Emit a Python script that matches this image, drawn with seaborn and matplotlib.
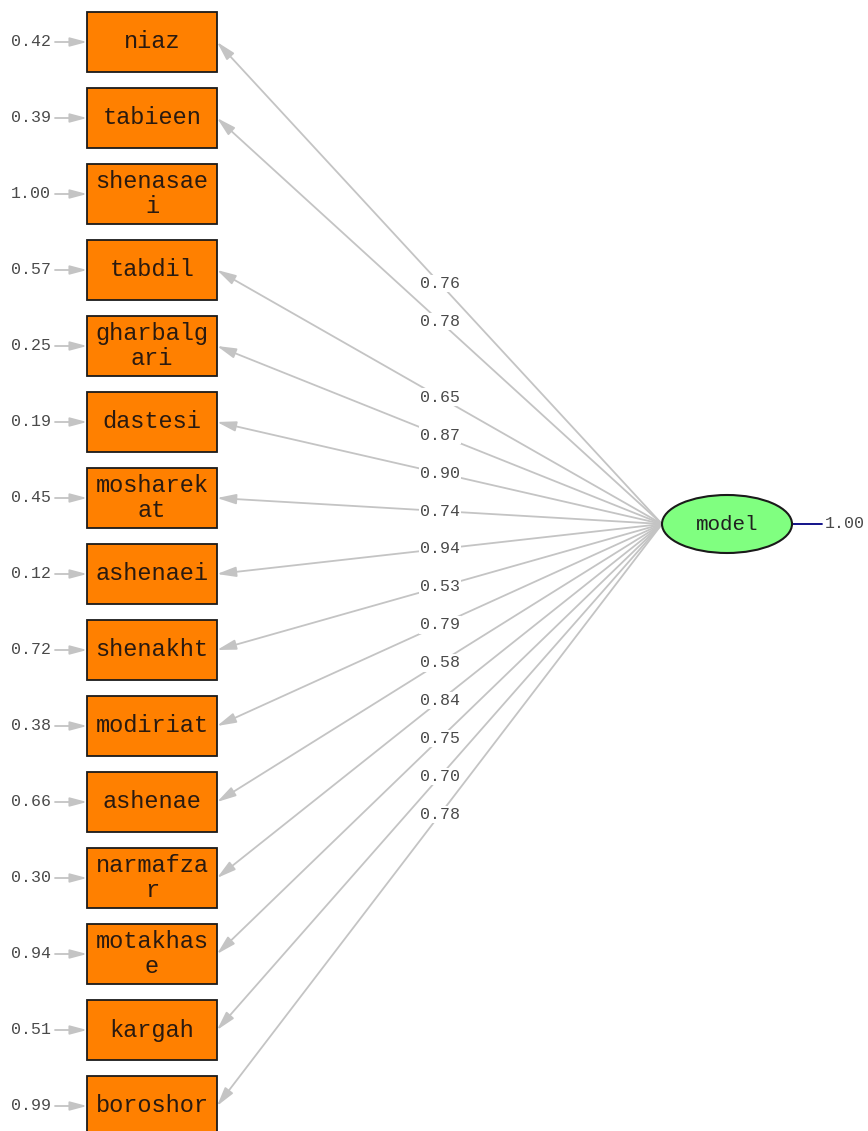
import numpy as np
import matplotlib.pyplot as plt
from matplotlib.patches import Rectangle, Ellipse
import seaborn as sns

# path diagram values (standardized solution)
indicators = ["niaz", "tabieen", "shenasaei", "tabdil", "gharbalgari", "dastesi",
              "mosharekat", "ashenaei", "shenakht", "modiriat", "ashenae",
              "narmafzar", "motakhase", "kargah", "boroshor"]
error_var = [0.42, 0.39, 1.00, 0.57, 0.25, 0.19, 0.45, 0.12, 0.72, 0.38,
             0.66, 0.30, 0.94, 0.51, 0.99]
loadings = [0.76, 0.78, None, 0.65, 0.87, 0.90, 0.74, 0.94, 0.53, 0.79,
            0.58, 0.84, 0.75, 0.70, 0.78]
latent = "model"
latent_var = 1.00

sns.set_theme(style="white")
plt.rcParams['font.family'] = ['Liberation Mono', 'DejaVu Sans Mono']

W, H = 868, 1131
fig = plt.figure(figsize=(W / 100, H / 100), dpi=100)
ax = fig.add_axes([0, 0, 1, 1])
ax.set_xlim(0, W)
ax.set_ylim(H, 0)
ax.axis("off")

box_x, box_w, box_h = 87, 130, 60
top0, pitch = 12, 76
lat_x, lat_y, lat_w, lat_h = 727, 524, 130, 58
lat_left = lat_x - lat_w / 2
grey = "#c4c4c4"
num_col = "#4a4a4a"
head = "-|>,head_length=0.6,head_width=0.16"


def wrap(s, n=8):
    return "\n".join(s[i:i + n] for i in range(0, len(s), n))


for i, (name, err, lam) in enumerate(zip(indicators, error_var, loadings)):
    top = top0 + i * pitch
    cy = top + box_h / 2
    ax.add_patch(Rectangle((box_x, top), box_w, box_h, facecolor="#ff8000",
                           edgecolor="#1a1a1a", lw=1.3, zorder=3))
    ax.text(box_x + box_w / 2, cy, wrap(name), ha="center", va="center",
            fontsize=17, color="#2a1a10", linespacing=1.15, zorder=4)

    # error variance arrow
    ax.annotate("", xy=(box_x, cy), xytext=(55, cy),
                arrowprops=dict(arrowstyle=head, color=grey, lw=1.3,
                                mutation_scale=17, shrinkA=0, shrinkB=0))
    ax.text(31, cy, f"{err:.2f}", ha="center", va="center", fontsize=12,
            color=num_col)

    if lam is None:
        continue
    x_end = box_x + box_w
    ax.annotate("", xy=(x_end, cy), xytext=(lat_left, lat_y),
                arrowprops=dict(arrowstyle=head, color=grey, lw=1.3,
                                mutation_scale=19, shrinkA=0, shrinkB=0),
                zorder=1)
    lx = 440
    t = (lat_left - lx) / (lat_left - x_end)
    ly = lat_y + t * (cy - lat_y)
    ax.text(lx, ly, f"{lam:.2f}", ha="center", va="center", fontsize=12,
            color=num_col, zorder=2,
            bbox=dict(facecolor="white", edgecolor="none", pad=1.0))

ax.add_patch(Ellipse((lat_x, lat_y), lat_w, lat_h, facecolor="#80ff80",
                     edgecolor="#1a1a1a", lw=1.5, zorder=3))
ax.text(lat_x, lat_y, latent, ha="center", va="center", fontsize=15,
        color="#202020", zorder=4)
ax.plot([lat_x + lat_w / 2, 822], [lat_y, lat_y], color="#000080", lw=1.3)
ax.text(825, lat_y, f"{latent_var:.2f}", ha="left", va="center", fontsize=12,
        color=num_col)

fig.savefig("out.png", dpi=100, facecolor="white")
